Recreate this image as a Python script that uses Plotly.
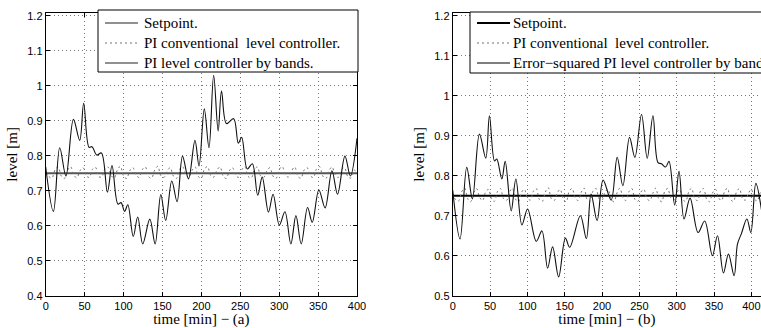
import plotly.graph_objects as go

# ---------------- Panel (a) data ----------------
t_bands_a = [0, 9.9, 18, 26, 35.6, 43.7, 48.8, 55.7, 59.5, 65.6, 71.6, 79.3, 85.2, 92.8, 96.8,
             101.4, 105.5, 112.5, 118.2, 124.7, 133.8, 140.6, 147.9, 154.2, 162, 168.8, 175.8,
             183.5, 191.8, 197, 203.8, 209.8, 215.8, 221.6, 225.9, 232.3, 241.5, 247.5, 251.8,
             259, 265.5, 272.4, 278.2, 286.2, 292.2, 300.2, 307.4, 315, 321.5, 328.3, 336.5,
             342.5, 351, 359, 367.8, 375, 384.5, 391.5, 400]
lvl_bands_a = [0.768, 0.641, 0.823, 0.742, 0.904, 0.844, 0.95, 0.824, 0.826, 0.802, 0.808, 0.696,
               0.772, 0.662, 0.666, 0.641, 0.66, 0.569, 0.625, 0.548, 0.619, 0.548, 0.689, 0.615,
               0.728, 0.669, 0.799, 0.734, 0.844, 0.771, 0.934, 0.823, 1.03, 0.871, 0.985, 0.892,
               0.906, 0.836, 0.853, 0.762, 0.777, 0.687, 0.739, 0.639, 0.69, 0.602, 0.64, 0.548,
               0.629, 0.548, 0.652, 0.61, 0.702, 0.651, 0.757, 0.69, 0.799, 0.742, 0.85]

t_conv_a = list(range(0, 401, 4))
lvl_conv_a = [0.752, 0.741, 0.736, 0.760, 0.768, 0.742, 0.735, 0.758, 0.769, 0.745, 0.737, 0.757, 0.766, 0.743, 0.738, 0.761, 0.767, 0.741, 0.739, 0.762,
              0.768, 0.744, 0.736, 0.759, 0.770, 0.742, 0.735, 0.757, 0.766, 0.745, 0.738, 0.760, 0.768, 0.741, 0.736, 0.759, 0.770, 0.743, 0.738, 0.756,
              0.766, 0.742, 0.735, 0.761, 0.769, 0.745, 0.738, 0.758, 0.768, 0.741, 0.736, 0.762, 0.769, 0.743, 0.739, 0.759, 0.768, 0.742, 0.735, 0.757,
              0.766, 0.745, 0.738, 0.760, 0.769, 0.741, 0.736, 0.759, 0.768, 0.743, 0.738, 0.756, 0.766, 0.742, 0.735, 0.761, 0.769, 0.745, 0.739, 0.757,
              0.768, 0.741, 0.736, 0.759, 0.766, 0.743, 0.738, 0.762, 0.769, 0.742, 0.735, 0.757, 0.768, 0.745, 0.738, 0.760, 0.766, 0.741, 0.736, 0.759,
              0.752]

# ---------------- Panel (b) data ----------------
t_bands_b = [0, 9.8, 18.8, 26.4, 35.8, 44.3, 49.2, 56, 59, 65.8, 70.3, 78.3, 84.6, 92.7, 100.3,
             111.9, 119.5, 127.1, 133.8, 141.9, 150.9, 156.7, 171, 179, 185.3, 193.4, 201.4,
             212.2, 220.3, 227.9, 236.8, 244, 252.9, 260.5, 268.2, 274.9, 279.5, 285.2, 289.7,
             297.3, 303.1, 309.8, 317.9, 328.6, 337.5, 347.8, 354.6, 362.6, 369.3, 376.9, 381.4,
             386.8, 394, 399.3, 406, 413.6]
lvl_bands_b = [0.764, 0.642, 0.821, 0.742, 0.904, 0.844, 0.95, 0.837, 0.842, 0.792, 0.836, 0.712,
               0.792, 0.677, 0.717, 0.636, 0.662, 0.569, 0.622, 0.547, 0.644, 0.621, 0.70, 0.643,
               0.754, 0.688, 0.789, 0.739, 0.846, 0.775, 0.896, 0.846, 0.953, 0.844, 0.95, 0.833,
               0.83, 0.822, 0.836, 0.727, 0.811, 0.692, 0.744, 0.658, 0.687, 0.60, 0.65, 0.557,
               0.604, 0.55, 0.629, 0.656, 0.692, 0.658, 0.781, 0.714]

t_conv_b = list(range(0, 417, 4))
lvl_conv_b = [0.756, 0.740, 0.737, 0.760, 0.769, 0.743, 0.735, 0.757, 0.768, 0.746, 0.738, 0.759, 0.766, 0.742, 0.736, 0.761, 0.768, 0.743, 0.738, 0.759,
              0.769, 0.742, 0.735, 0.758, 0.766, 0.745, 0.739, 0.761, 0.768, 0.741, 0.736, 0.759, 0.770, 0.743, 0.738, 0.757, 0.766, 0.742, 0.735, 0.761,
              0.768, 0.745, 0.738, 0.758, 0.769, 0.741, 0.736, 0.762, 0.768, 0.743, 0.739, 0.759, 0.766, 0.742, 0.735, 0.757, 0.769, 0.745, 0.738, 0.760,
              0.768, 0.741, 0.736, 0.759, 0.766, 0.743, 0.738, 0.756, 0.769, 0.742, 0.735, 0.761, 0.768, 0.745, 0.739, 0.757, 0.766, 0.741, 0.736, 0.759,
              0.769, 0.743, 0.738, 0.762, 0.768, 0.742, 0.735, 0.757, 0.766, 0.745, 0.738, 0.760, 0.769, 0.741, 0.736, 0.759, 0.768, 0.743, 0.739, 0.756,
              0.766, 0.742, 0.737, 0.758, 0.764]

t_setpoint = [0, 420]
lvl_setpoint = [0.75, 0.75]

x_ticks = [0, 50, 100, 150, 200, 250, 300, 350, 400]
y_ticks_a = [0.4, 0.5, 0.6, 0.7, 0.8, 0.9, 1.0, 1.1, 1.2]
y_ticks_a_text = ["0.4", "0.5", "0.6", "0.7", "0.8", "0.9", "1", "1.1", "1.2"]
y_ticks_b = [0.5, 0.6, 0.7, 0.8, 0.9, 1.0, 1.1, 1.2]
y_ticks_b_text = ["0.5", "0.6", "0.7", "0.8", "0.9", "1", "1.1", "1.2"]

names_a = ["Setpoint.", "PI conventional  level controller.", "PI level controller by bands."]
names_b = ["Setpoint.", "PI conventional  level controller.", "Error\u2212squared PI level controller by bands."]

W, H = 761, 328
SERIF = "Liberation Serif, Times New Roman, serif"
SANS = "Liberation Sans, Arial, sans-serif"

CONV_DASH = "2px,3px"
# styles (colour, width, dash) per series, per panel
styles_a = [("#555555", 2, "solid"), ("#707070", 1, CONV_DASH), ("#111111", 1.1, "solid")]
styles_b = [("#000000", 2, "solid"), ("#707070", 1, CONV_DASH), ("#555555", 1.3, "solid")]

fig = go.Figure()

# panel (a)
fig.add_trace(go.Scatter(x=t_setpoint, y=lvl_setpoint, mode="lines", name=names_a[0], showlegend=False,
                         line=dict(color=styles_a[0][0], width=2), xaxis="x", yaxis="y"))
fig.add_trace(go.Scatter(x=t_conv_a, y=lvl_conv_a, mode="lines", name=names_a[1], showlegend=False,
                         line=dict(color=styles_a[1][0], width=1, dash=CONV_DASH, shape="spline"),
                         xaxis="x", yaxis="y"))
fig.add_trace(go.Scatter(x=t_bands_a, y=lvl_bands_a, mode="lines", name=names_a[2], showlegend=False,
                         line=dict(color="#111111", width=1.1, shape="spline", smoothing=1.0),
                         xaxis="x", yaxis="y"))

# panel (b)
fig.add_trace(go.Scatter(x=t_setpoint, y=lvl_setpoint, mode="lines", name=names_b[0], showlegend=False,
                         line=dict(color=styles_b[0][0], width=2), xaxis="x2", yaxis="y2"))
fig.add_trace(go.Scatter(x=t_conv_b, y=lvl_conv_b, mode="lines", name=names_b[1], showlegend=False,
                         line=dict(color=styles_b[1][0], width=1, dash=CONV_DASH, shape="spline"),
                         xaxis="x2", yaxis="y2"))
fig.add_trace(go.Scatter(x=t_bands_b, y=lvl_bands_b, mode="lines", name=names_b[2], showlegend=False,
                         line=dict(color="#111111", width=1.1, shape="spline", smoothing=1.0),
                         xaxis="x2", yaxis="y2"))

ydom = [1 - 295.7 / H, 1 - 13 / H]

common_axis = dict(showline=True, linecolor="black", linewidth=1, ticks="inside", ticklen=4,
                   tickcolor="black", showgrid=True, gridcolor="#777777", griddash="1px,3px",
                   gridwidth=1, zeroline=False, tickfont=dict(family=SANS, size=11, color="black"))


def px(x):
    return x / W


def py(y):
    return 1 - y / H


shapes = []
annotations = []


def add_legend(box, rows, sample_x, text_x, names, styles):
    x0, y0, x1, y1 = box
    shapes.append(dict(type="rect", xref="paper", yref="paper", x0=px(x0), x1=px(x1), y0=py(y1), y1=py(y0),
                       fillcolor="white", line=dict(color="black", width=1), layer="above"))
    for ry, name, (col, wid, dash) in zip(rows, names, styles):
        shapes.append(dict(type="line", xref="paper", yref="paper", x0=px(sample_x[0]), x1=px(sample_x[1]),
                           y0=py(ry), y1=py(ry), line=dict(color=col, width=wid, dash=dash), layer="above"))
        annotations.append(dict(xref="paper", yref="paper", x=px(text_x), y=py(ry), text=name, showarrow=False,
                                xanchor="left", yanchor="middle",
                                font=dict(family=SERIF, size=15, color="black")))


add_legend((98, 10, 358, 72), [23, 43, 63], (105, 138), 142, names_a,
           [("#222222", 1.2, "solid"), styles_a[1], ("#222222", 1.2, "solid")])
add_legend((470, 12, 800, 73), [23, 43, 63], (477, 510), 511, names_b, styles_b)

fig.update_layout(
    width=W, height=H,
    margin=dict(l=0, r=0, t=0, b=0, autoexpand=False),
    paper_bgcolor="white", plot_bgcolor="white",
    showlegend=False,
    xaxis=dict(domain=[45.7 / W, 357 / W], range=[0, 400], tickvals=x_ticks, mirror="ticks",
               title=dict(text="time [min] \u2212 (a)", font=dict(family=SERIF, size=15, color="black"), standoff=2),
               anchor="y", **common_axis),
    yaxis=dict(domain=ydom, range=[0.4, 1.208], tickvals=y_ticks_a, ticktext=y_ticks_a_text, mirror="ticks",
               title=dict(text="level [m]", font=dict(family=SERIF, size=15, color="black"), standoff=5),
               anchor="x", **common_axis),
    xaxis2=dict(domain=[452.7 / W, 1.0], range=[0, 412.9], tickvals=x_ticks, mirror="ticks",
                title=dict(text="time [min] \u2212 (b)", font=dict(family=SERIF, size=15, color="black"), standoff=2),
                anchor="y2", **common_axis),
    yaxis2=dict(domain=ydom, range=[0.5, 1.207], tickvals=y_ticks_b, ticktext=y_ticks_b_text, mirror=False,
                title=dict(text="level [m]", font=dict(family=SERIF, size=15, color="black"), standoff=5),
                anchor="x2", **common_axis),
    shapes=shapes,
    annotations=annotations,
)

fig.write_html("out.html", config={"displayModeBar": False},
               post_script="document.body.style.margin='0';document.body.style.overflow='hidden';")
